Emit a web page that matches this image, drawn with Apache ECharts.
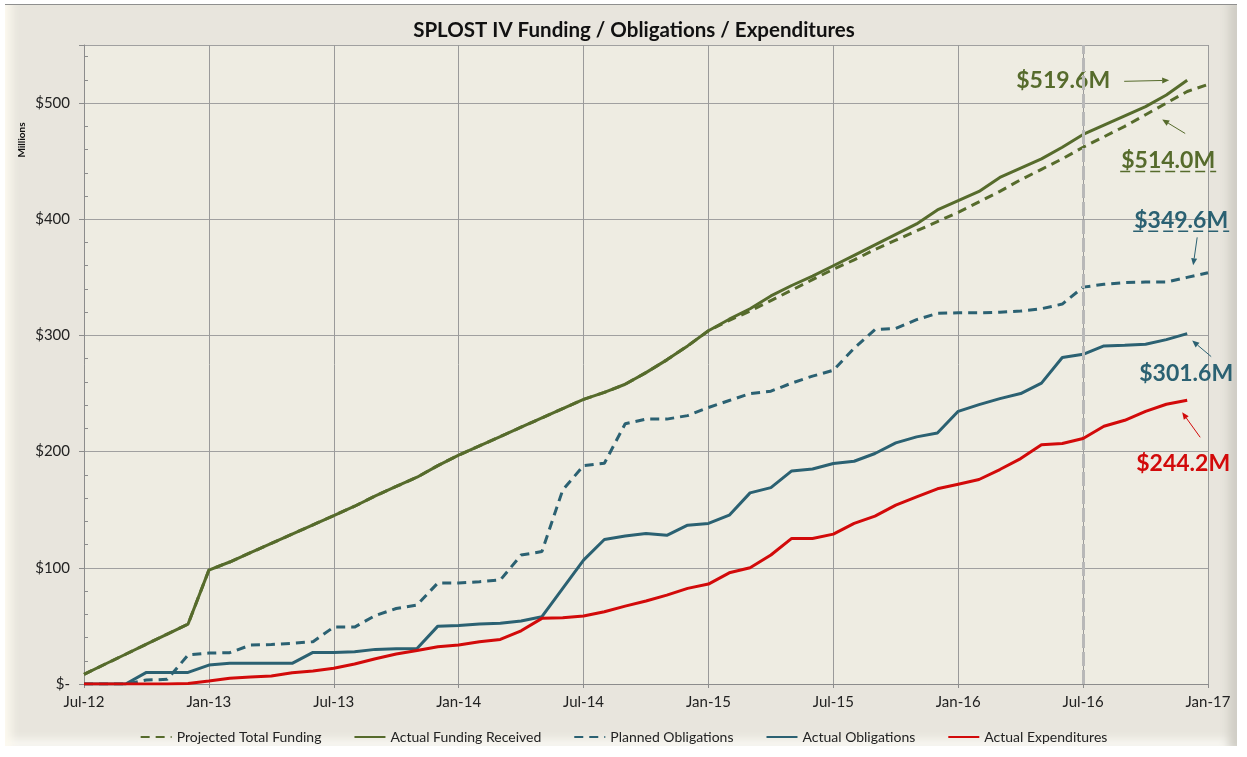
<!DOCTYPE html>
<html><head><meta charset="utf-8">
<script src="https://cdn.jsdelivr.net/npm/echarts@6/dist/echarts.min.js"></script>
<style>
html,body{margin:0;padding:0;background:#fff;overflow:hidden;}
#bg{position:absolute;left:5px;top:4px;width:1232px;height:741px;background:#e8e5dd;border-top:1px solid #8f8f8f;
box-shadow: inset 12px 0 10px -6px #fdfaf0, inset -14px 0 10px -6px #cfcdc5, inset 0 -12px 10px -6px #fbfaf5;}
#main{position:absolute;left:0;top:0;width:1247px;height:757px;}
</style></head><body><div id="bg"></div><div id="main"></div>
<script>
const months = ['Jul-12','Aug-12','Sep-12','Oct-12','Nov-12','Dec-12',
 'Jan-13','Feb-13','Mar-13','Apr-13','May-13','Jun-13','Jul-13','Aug-13','Sep-13','Oct-13','Nov-13','Dec-13',
 'Jan-14','Feb-14','Mar-14','Apr-14','May-14','Jun-14','Jul-14','Aug-14','Sep-14','Oct-14','Nov-14','Dec-14',
 'Jan-15','Feb-15','Mar-15','Apr-15','May-15','Jun-15','Jul-15','Aug-15','Sep-15','Oct-15','Nov-15','Dec-15',
 'Jan-16','Feb-16','Mar-16','Apr-16','May-16','Jun-16','Jul-16','Aug-16','Sep-16','Oct-16','Nov-16','Dec-16',
 'Jan-17'];

const projectedFunding = [8.3,17,25.6,34.3,43,51.6,98,105,113,121,129,137,145,153,162,170,178,188,
 197,205,213,221,229,237,245,251,258,268,279,291,304,313,321,330,339,348,357,365,374,382,390,398,
 406,415,424,434,443,452,462,471,480,490,500,510,516];
const actualFunding = [8.3,17,25.6,34.3,43,51.6,98,105,113,121,129,137,145,153,162,170,178,188,
 197,205,213,221,229,237,245,251,258,268,279,291,304,314,323,334,343,351,360,369,378,387,396,408,
 416,424,436,444,452,462,473,481,489,497,507,519.6,null];
const plannedObligations = [0,0,0,3.4,4,25,26.6,27,33.5,34,35,36.4,49,49,59,65,68,87,
 87,88,89.5,111,114,167,188,190,224,228,228,231,238,244,250,252,259,265,270,289,305,306,313.6,319,
 319.5,319.5,320,321,323,327,341.6,344,345.5,346,346,350,354];
const actualObligations = [0,0,0,10,10,10,16.3,17.8,17.8,17.8,17.8,27.2,27.2,27.8,29.8,30.4,30.6,49.8,
 50.4,51.6,52.2,54.2,57.9,82.3,106.6,124.4,127.3,129.6,128,136.7,138.2,145.3,164.5,169,183.4,185,189.8,191.7,198.4,207.5,212.7,216,
 234.7,240.5,245.6,250,259,281,283.8,291,291.5,292.4,296.4,301.6,null];
const actualExpenditures = [0,0,0,0,0,0.5,2.6,4.9,6,6.9,9.7,11.2,13.5,17.2,21.8,25.8,28.8,32,
 33.5,36.4,38.4,45.8,56.5,57,58.5,62.2,67,71.4,76.5,82.3,86,95.7,100,111,125.3,125.3,129,138.2,144.5,154,161,168,
 172,176,184.6,194,206,207,211.3,221.8,227,234.7,240.8,244.2,null];

const seriesNames = ['Projected Total Funding','Actual Funding Received','Planned Obligations','Actual Obligations','Actual Expenditures'];
const GREEN = '#566b2c', TEAL = '#2b6172', RED = '#d20a0a';
const FONT = 'Lato, "Open Sans", sans-serif';

const chart = echarts.init(document.getElementById('main'));

function line(name, data, color, dashed, z) {
  return {
    name, type: 'line', data, symbol: 'none', showSymbol: false, z: z,
    lineStyle: { color, width: 3, type: dashed ? [9, 6] : 'solid' },
    itemStyle: { color },
    emphasis: { disabled: true }, connectNulls: false
  };
}

const series = [
  line(seriesNames[0], projectedFunding, GREEN, true, 3),
  line(seriesNames[1], actualFunding, GREEN, false, 4),
  line(seriesNames[2], plannedObligations, TEAL, true, 3),
  line(seriesNames[3], actualObligations, TEAL, false, 4),
  line(seriesNames[4], actualExpenditures, RED, false, 5)
];
series[0].markLine = {
  silent: true, symbol: 'none', label: { show: false },
  lineStyle: { color: '#b8b8b8', width: 3, type: [14, 4] },
  data: [{ xAxis: 'Jul-16' }]
};

chart.setOption({
  animation: false,
  textStyle: { fontFamily: FONT },
  title: {
    text: 'SPLOST IV Funding / Obligations / Expenditures',
    left: 629, top: 15, textAlign: 'center',
    textStyle: { fontFamily: FONT, fontWeight: 'bold', fontSize: 20.5, color: '#111' }
  },
  grid: { left: 84, right: 39, top: 45, bottom: 73, show: true, backgroundColor: '#eeece2', borderWidth: 0 },
  legend: {
    data: seriesNames, bottom: 8, left: 'center', itemWidth: 31, itemHeight: 12, itemGap: 32,
    itemStyle: { opacity: 0, borderWidth: 0 },
    textStyle: { fontFamily: FONT, fontSize: 14, color: '#222' }
  },
  xAxis: {
    type: 'category', data: months, boundaryGap: false,
    axisLine: { lineStyle: { color: '#8c8c8c', width: 1 } },
    axisTick: { show: true, interval: 5, length: 4, lineStyle: { color: '#8c8c8c' } },
    axisLabel: { interval: 5, margin: 11, fontSize: 15, color: '#222', fontFamily: FONT },
    splitLine: { show: true, interval: 5, lineStyle: { color: '#9a9a9a', width: 1 } }
  },
  yAxis: {
    type: 'value', min: 0, max: 550, interval: 100,
    axisLine: { show: true, lineStyle: { color: '#8c8c8c' } },
    axisTick: { show: true, length: 5, lineStyle: { color: '#8c8c8c' } },
    minorTick: { show: true, splitNumber: 5, length: -4, lineStyle: { color: '#8c8c8c' } },
    axisLabel: { showMaxLabel: false, margin: 14, fontSize: 15, color: '#222', fontFamily: FONT,
      formatter: v => v === 0 ? '$-' : '$' + v },
    splitLine: { show: true, lineStyle: { color: '#a0a0a0', width: 1 } }
  },
  series
});

function arrow(x1, y1, x2, y2, color) {
  const a = Math.atan2(y2 - y1, x2 - x1), L = 7, W = 3;
  const bx = x2 - L * Math.cos(a), by = y2 - L * Math.sin(a);
  return [
    { type: 'line', silent: true, shape: { x1, y1, x2: bx, y2: by }, style: { stroke: color, lineWidth: 1 } },
    { type: 'polygon', silent: true, shape: { points: [[x2, y2], [bx + W * Math.sin(a), by - W * Math.cos(a)], [bx - W * Math.sin(a), by + W * Math.cos(a)]] }, style: { fill: color } }
  ];
}
function label(text, cx, cy, color, underline) {
  const els = [{ type: 'text', silent: true, x: cx, y: cy,
    style: { text, fill: color, font: 'bold 23px ' + FONT, align: 'center', verticalAlign: 'middle', textAlign: 'center', textVerticalAlign: 'middle' } }];
  if (underline) {
    els.push({ type: 'line', silent: true, shape: { x1: cx - 48, y1: cy + 11, x2: cx + 48, y2: cy + 11 },
      style: { stroke: color, lineWidth: 1.5, lineDash: [10, 5] } });
  }
  return els;
}
const last = 53;
const pF = chart.convertToPixel({ gridIndex: 0 }, [months[last], actualFunding[last]]);
const pP = chart.convertToPixel({ gridIndex: 0 }, [months[last], projectedFunding[last]]);
const pPO = chart.convertToPixel({ gridIndex: 0 }, [months[last], plannedObligations[last]]);
const pAO = chart.convertToPixel({ gridIndex: 0 }, [months[last], actualObligations[last]]);
const pE = chart.convertToPixel({ gridIndex: 0 }, [months[last], actualExpenditures[last]]);

let els = [];
els = els.concat(label('$519.6M', pF[0] - 124, pF[1], GREEN, false));
els = els.concat(arrow(pF[0] - 63, pF[1] + 1, pF[0] - 18, pF[1], GREEN));
els = els.concat(label('$514.0M', pP[0] - 19, pP[1] + 69, GREEN, true));
els = els.concat(arrow(pP[0] - 2, pP[1] + 42, pP[0] - 25, pP[1] + 28, GREEN));
els = els.concat(label('$349.6M', pPO[0] - 6, pPO[1] - 57, TEAL, true));
els = els.concat(arrow(pPO[0] + 10, pPO[1] - 40, pPO[0] + 6, pPO[1] - 12, TEAL));
els = els.concat(label('$301.6M', pAO[0] - 1, pAO[1] + 40, TEAL, false));
els = els.concat(arrow(pAO[0] + 24, pAO[1] + 23, pAO[0] + 5, pAO[1] + 7, TEAL));
els = els.concat(label('$244.2M', pE[0] - 4, pE[1] + 63, RED, false));
els = els.concat(arrow(pE[0] + 13, pE[1] + 37, pE[0] - 5, pE[1] + 12, RED));
els.push({ type: 'text', silent: true, x: 22, y: 140, rotation: Math.PI / 2,
  style: { text: 'Millions', fill: '#111', font: 'bold 10px ' + FONT, align: 'center', verticalAlign: 'middle', textAlign: 'center', textVerticalAlign: 'middle' } });

chart.setOption({ graphic: { elements: els } });
</script>
</body></html>
